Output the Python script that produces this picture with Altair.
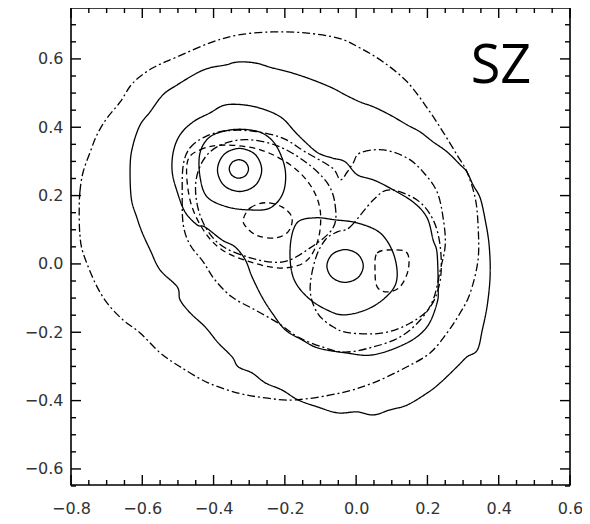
import altair as alt
import pandas as pd

# ---- contour paths (data units) ----
sz_outer = [(-0.410,0.574),(-0.368,0.582),(-0.331,0.591),(-0.283,0.588),(-0.236,0.574),(-0.180,0.559),
            (-0.123,0.539),(-0.067,0.515),(-0.031,0.495),(0.011,0.474),(0.048,0.460),(0.095,0.436),
            (0.143,0.407),(0.180,0.386),(0.216,0.357),(0.255,0.328),(0.292,0.290),(0.311,0.269),
            (0.328,0.231),(0.348,0.193),(0.362,0.129),(0.373,0.056),(0.376,-0.032),(0.368,-0.120),
            (0.354,-0.193),(0.340,-0.252),(0.311,-0.272),(0.283,-0.301),(0.236,-0.348),(0.199,-0.378),
            (0.143,-0.413),(0.095,-0.427),(0.048,-0.442),(0.003,-0.433),(-0.051,-0.436),(-0.107,-0.419),
            (-0.163,-0.398),(-0.208,-0.369),(-0.255,-0.348),(-0.292,-0.319),(-0.331,-0.301),(-0.348,-0.272),
            (-0.387,-0.231),(-0.424,-0.184),(-0.466,-0.143),(-0.494,-0.105),(-0.502,-0.067),(-0.550,-0.018),
            (-0.578,0.041),(-0.600,0.091),(-0.615,0.135),(-0.631,0.193),(-0.634,0.290),(-0.626,0.348),
            (-0.606,0.407),(-0.578,0.445),(-0.542,0.495),(-0.502,0.524),(-0.446,0.559)]
sz_mid = [(-0.410,0.442),(-0.368,0.465),(-0.311,0.465),(-0.255,0.451),(-0.208,0.427),(-0.171,0.386),
          (-0.143,0.357),(-0.107,0.325),(-0.067,0.310),(-0.031,0.299),(0.003,0.261),(0.048,0.246),
          (0.095,0.222),(0.160,0.181),(0.199,0.135),(0.216,0.070),(0.227,0.032),(0.230,-0.067),
          (0.227,-0.114),(0.199,-0.184),(0.143,-0.231),(0.048,-0.266),(-0.031,-0.260),(-0.107,-0.246),
          (-0.152,-0.222),(-0.199,-0.193),(-0.236,-0.143),(-0.264,-0.097),(-0.292,-0.038),(-0.311,0.012),
          (-0.340,0.050),(-0.376,0.070),(-0.424,0.108),(-0.446,0.114),(-0.480,0.152),(-0.502,0.211),
          (-0.516,0.269),(-0.513,0.328),(-0.494,0.378),(-0.457,0.416)]
sz_ring1 = [(-0.438,0.325),(-0.410,0.372),(-0.354,0.392),(-0.297,0.392),(-0.255,0.378),(-0.222,0.342),
            (-0.199,0.275),(-0.205,0.208),(-0.241,0.164),(-0.297,0.158),(-0.362,0.167),(-0.418,0.196),
            (-0.438,0.255)]
sz_ring2 = [(-0.389,0.275),(-0.371,0.320),(-0.327,0.338),(-0.283,0.320),(-0.265,0.275),(-0.283,0.230),
            (-0.327,0.212),(-0.371,0.230)]
sz_ring3 = [(-0.356,0.278),(-0.348,0.297),(-0.329,0.305),(-0.310,0.297),(-0.302,0.278),(-0.310,0.259),
            (-0.329,0.251),(-0.348,0.259)]
sz_low1 = [(-0.166,0.120),(-0.115,0.135),(-0.059,0.129),(0.003,0.120),(0.067,0.091),(0.104,0.032),
           (0.115,-0.038),(0.095,-0.085),(0.039,-0.129),(-0.031,-0.149),(-0.081,-0.135),(-0.137,-0.097),
           (-0.177,-0.038),(-0.185,0.050)]
sz_low2 = [(-0.082,-0.006),(-0.067,0.028),(-0.031,0.042),(0.005,0.028),(0.020,-0.006),(0.005,-0.040),
           (-0.031,-0.054),(-0.067,-0.040)]

dd_outer = [(-0.777,0.152),(-0.775,0.211),(-0.766,0.269),(-0.746,0.328),(-0.727,0.378),(-0.699,0.427),
            (-0.662,0.474),(-0.626,0.530),(-0.570,0.574),(-0.502,0.606),(-0.410,0.647),(-0.331,0.670),
            (-0.236,0.679),(-0.143,0.676),(-0.051,0.661),(0.011,0.632),(0.076,0.591),(0.143,0.533),
            (0.199,0.457),(0.244,0.386),(0.283,0.319),(0.311,0.269),(0.334,0.193),(0.342,0.114),
            (0.342,0.012),(0.320,-0.085),(0.292,-0.143),(0.255,-0.202),(0.208,-0.260),(0.143,-0.301),
            (0.048,-0.348),(-0.045,-0.378),(-0.171,-0.398),(-0.255,-0.392),(-0.331,-0.378),(-0.415,-0.348),
            (-0.494,-0.301),(-0.550,-0.260),(-0.606,-0.202),(-0.654,-0.164),(-0.699,-0.114),(-0.732,-0.056),
            (-0.766,0.032),(-0.775,0.085)]
dd_big = [(-0.485,0.290),(-0.466,0.340),(-0.424,0.372),(-0.368,0.389),(-0.292,0.389),(-0.208,0.369),
          (-0.143,0.328),(-0.067,0.281),(-0.045,0.246),(-0.025,0.269),(-0.008,0.296),(0.011,0.325),
          (0.076,0.334),(0.143,0.310),(0.188,0.269),(0.227,0.211),(0.244,0.135),(0.250,0.056),
          (0.236,-0.018),(0.216,-0.105),(0.180,-0.164),(0.123,-0.214),(0.048,-0.243),(-0.031,-0.258),
          (-0.095,-0.243),(-0.163,-0.214),(-0.219,-0.173),(-0.283,-0.135),(-0.348,-0.097),(-0.396,-0.047),
          (-0.429,0.006),(-0.466,0.056),(-0.485,0.114),(-0.488,0.202)]
dd_low = [(-0.053,0.094),(-0.017,0.108),(0.048,0.187),(0.095,0.217),(0.171,0.187),(0.216,0.129),
          (0.236,0.050),(0.236,-0.047),(0.208,-0.126),(0.152,-0.173),(0.076,-0.202),(-0.017,-0.202),
          (-0.065,-0.184),(-0.109,-0.143),(-0.129,-0.076),(-0.115,0.012),(-0.087,0.070)]
dd_up = [(-0.081,0.237),(-0.059,0.173),(-0.065,0.105),(-0.129,0.047),(-0.205,0.006),(-0.297,0.018),
         (-0.387,0.061),(-0.438,0.143),(-0.449,0.246),(-0.410,0.328),(-0.326,0.363),(-0.227,0.348),
         (-0.143,0.299)]
ds_up1 = [(-0.474,0.296),(-0.438,0.334),(-0.368,0.348),(-0.269,0.334),(-0.185,0.290),(-0.129,0.231),
          (-0.101,0.158),(-0.107,0.070),(-0.143,0.006),(-0.213,-0.012),(-0.297,0.006),(-0.376,0.041),
          (-0.429,0.100),(-0.466,0.187)]
ds_up2 = [(-0.317,0.129),(-0.297,0.164),(-0.255,0.179),(-0.208,0.167),(-0.180,0.135),(-0.191,0.094),
          (-0.227,0.076),(-0.275,0.082),(-0.306,0.105)]
ds_low = [(0.053,-0.018),(0.059,0.032),(0.104,0.041),(0.143,0.032),(0.146,-0.018),(0.123,-0.067),
          (0.087,-0.082),(0.059,-0.067)]

x_major = [-0.8, -0.6, -0.4, -0.2, 0.0, 0.2, 0.4, 0.6]
x_minor = [-0.75, -0.7, -0.65, -0.55, -0.5, -0.45, -0.35, -0.3, -0.25, -0.15, -0.1, -0.05,
           0.05, 0.1, 0.15, 0.25, 0.3, 0.35, 0.45, 0.5, 0.55]
y_major = [-0.6, -0.4, -0.2, 0.0, 0.2, 0.4, 0.6]
y_minor = [-0.65, -0.55, -0.5, -0.45, -0.35, -0.3, -0.25, -0.15, -0.1, -0.05,
           0.05, 0.1, 0.15, 0.25, 0.3, 0.35, 0.45, 0.5, 0.55, 0.65, 0.7]
panel_label = ["SZ"]

contours = [
    ("sz_outer", "solid", sz_outer), ("sz_mid", "solid", sz_mid), ("sz_ring1", "solid", sz_ring1),
    ("sz_ring2", "solid", sz_ring2), ("sz_ring3", "solid", sz_ring3), ("sz_low1", "solid", sz_low1),
    ("sz_low2", "solid", sz_low2),
    ("dd_outer", "dashdot", dd_outer), ("dd_big", "dashdot", dd_big), ("dd_low", "dashdot", dd_low),
    ("dd_up", "dashdot", dd_up),
    ("ds_up1", "dashed", ds_up1), ("ds_up2", "dashed", ds_up2), ("ds_low", "dashed", ds_low),
]
rows = []
for name, style, pts in contours:
    for i, (x, y) in enumerate(pts):
        rows.append({"c": name, "style": style, "i": i, "x": x, "y": y})
df = pd.DataFrame(rows)

W, H = 499, 477
xs = alt.Scale(domain=[-0.8, 0.6], nice=False, zero=False)
ys = alt.Scale(domain=[-0.647, 0.749], nice=False, zero=False)

LF = "DejaVu Sans"

dash_scale = alt.Scale(domain=["solid", "dashed", "dashdot"],
                       range=[[1, 0], [6, 4], [8, 3, 2, 3]])

lines = alt.Chart(df).mark_line(interpolate="cardinal-closed", color="black", strokeWidth=1.3).encode(
    x=alt.X("x:Q", scale=xs, axis=alt.Axis(values=x_major, format=".1f", ticks=False, domain=False,
                                           grid=False, title=None, labelFont=LF, labelFontSize=16,
                                           labelColor="#333", labelPadding=15, labelFlush=False,
                                           labelOverlap=False)),
    y=alt.Y("y:Q", scale=ys, axis=alt.Axis(values=y_major, format=".1f", ticks=False, domain=False,
                                           grid=False, title=None, labelFont=LF, labelFontSize=16,
                                           labelColor="#333", labelPadding=8, labelFlush=False,
                                           labelOverlap=False)),
    detail="c:N",
    order="i:Q",
    strokeDash=alt.StrokeDash("style:N", scale=dash_scale, legend=None),
)


def xticks(vals, length):
    d = pd.DataFrame({"v": vals})
    bot = alt.Chart(d).mark_rule(color="black", strokeWidth=1.4).encode(
        x=alt.X("v:Q", scale=xs), y=alt.value(H), y2=alt.value(H - length))
    top = alt.Chart(d).mark_rule(color="black", strokeWidth=1.4).encode(
        x=alt.X("v:Q", scale=xs), y=alt.value(0), y2=alt.value(length))
    return [bot, top]


def yticks(vals, length):
    d = pd.DataFrame({"v": vals})
    left = alt.Chart(d).mark_rule(color="black", strokeWidth=1.4).encode(
        y=alt.Y("v:Q", scale=ys), x=alt.value(0), x2=alt.value(length))
    right = alt.Chart(d).mark_rule(color="black", strokeWidth=1.4).encode(
        y=alt.Y("v:Q", scale=ys), x=alt.value(W), x2=alt.value(W - length))
    return [left, right]


tick_layers = xticks(x_major, 10) + xticks(x_minor, 5) + yticks(y_major, 10) + yticks(y_minor, 5)

label = alt.Chart(pd.DataFrame({"t": panel_label})).mark_text(
    font="Open Sans", fontSize=54, align="center", baseline="alphabetic", color="black"
).encode(text="t:N", x=alt.value(430), y=alt.value(75))

chart = alt.layer(lines, *tick_layers, label).properties(
    width=W, height=H,
    autosize=alt.AutoSizeParams(type="none"),
    padding={"left": 63, "top": 0, "right": 12, "bottom": 31},
).configure_view(stroke="black", strokeWidth=1.6)

chart.save("out.html", embed_options={"renderer": "svg", "actions": False})
